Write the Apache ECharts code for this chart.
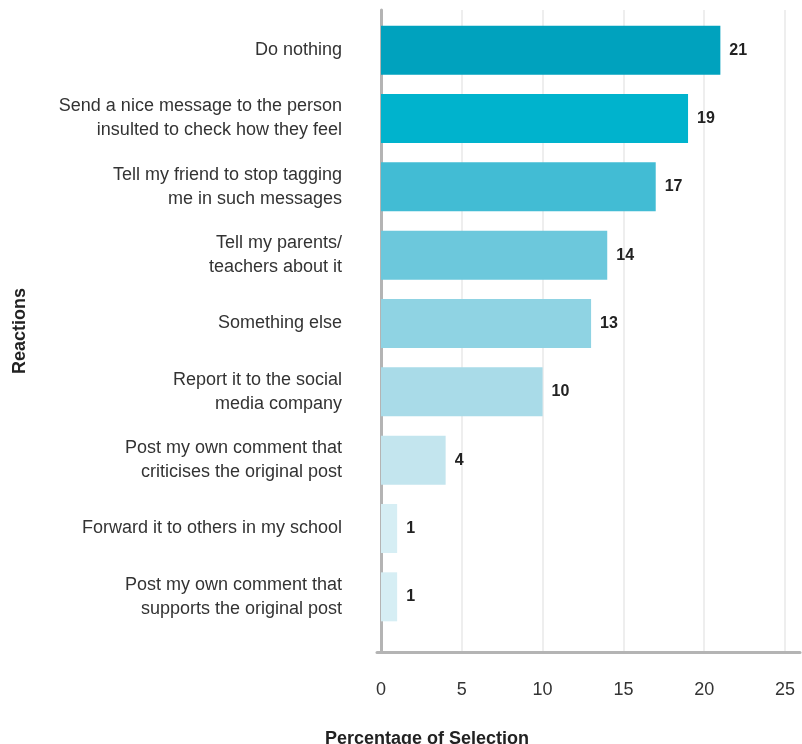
<!DOCTYPE html>
<html>
<head>
<meta charset="utf-8">
<script src="https://cdn.jsdelivr.net/npm/echarts@6/dist/echarts.min.js"></script>
<style>
  html, body { margin: 0; padding: 0; background: #fff; }
  #chart { width: 802px; height: 744px; }
</style>
</head>
<body>
<div id="chart"></div>
<script>
// Reactions, top to bottom
const reactions = [
  'Do nothing',
  'Send a nice message to the person\ninsulted to check how they feel',
  'Tell my friend to stop tagging\nme in such messages',
  'Tell my parents/\nteachers about it',
  'Something else',
  'Report it to the social\nmedia company',
  'Post my own comment that\ncriticises the original post',
  'Forward it to others in my school',
  'Post my own comment that\nsupports the original post'
];
// Percentage of selection for each reaction
const percentages = [21, 19, 17, 14, 13, 10, 4, 1, 1];
// Bar shades, darkest for the most common reaction
const barColors = ['#00a2be', '#00b3cd', '#42bcd4', '#6cc8dc', '#8fd3e3', '#a9dbe8', '#c3e5ee', '#d6eef4', '#d6eef4'];
// X-axis range
const xMin = 0, xMax = 25, xStep = 5;

const font = '"Liberation Sans", Arial, Helvetica, sans-serif';
const axisGray = '#b4b4b4';
const chart = echarts.init(document.getElementById('chart'), null, { renderer: 'canvas' });

chart.setOption({
  animation: false,
  backgroundColor: '#ffffff',
  textStyle: { fontFamily: font },
  title: {
    text: 'Percentage of Selection',
    left: 320,
    top: 725,
    textStyle: { fontFamily: font, fontSize: 18, fontWeight: 'bold', color: '#222' }
  },
  grid: [
    // bars
    { left: 381, right: 17, top: 16, bottom: 113, containLabel: false, outerBoundsMode: 'none' },
    // axis frame and gridlines
    { left: 381, right: 17, top: 10, bottom: 92, containLabel: false, outerBoundsMode: 'none' },
    // baseline running a little past both ends of the scale
    { left: 377, right: 2, top: 10, bottom: 92, containLabel: false, outerBoundsMode: 'none' }
  ],
  xAxis: [
    {
      gridIndex: 0, type: 'value', min: xMin, max: xMax, interval: xStep,
      show: false
    },
    {
      gridIndex: 1, type: 'value', min: xMin, max: xMax, interval: xStep,
      axisLine: { show: false },
      axisTick: { show: false },
      axisLabel: { margin: 29, fontSize: 18, color: '#333', fontFamily: font },
      splitLine: { show: true, lineStyle: { color: '#eeeeee', width: 2 } }
    },
    {
      gridIndex: 2, type: 'value', min: 0, max: 1,
      axisLine: { show: true, lineStyle: { color: axisGray, width: 3 } },
      axisTick: { show: false },
      axisLabel: { show: false },
      splitLine: { show: false }
    }
  ],
  yAxis: [
    {
      gridIndex: 0, type: 'category', data: reactions, inverse: true,
      axisLine: { show: false },
      axisTick: { show: false },
      axisLabel: {
        margin: 39, fontSize: 18, lineHeight: 24, color: '#333',
        fontFamily: font, align: 'right'
      },
      splitLine: { show: false }
    },
    {
      gridIndex: 1, type: 'value',
      name: 'Reactions', nameLocation: 'middle', nameGap: 352, nameRotate: 90,
      nameTextStyle: { fontFamily: font, fontSize: 18, fontWeight: 'bold', color: '#222' },
      axisLine: { show: true, lineStyle: { color: axisGray, width: 3 } },
      axisTick: { show: false },
      axisLabel: { show: false },
      splitLine: { show: false }
    },
    {
      gridIndex: 2, type: 'value', show: false
    }
  ],
  series: [
    {
      type: 'bar',
      xAxisIndex: 0,
      yAxisIndex: 0,
      barWidth: 49,
      data: percentages.map((v, i) => ({
        value: v,
        itemStyle: { color: barColors[i] }
      })),
      label: {
        show: true,
        position: 'right',
        distance: 9,
        fontSize: 16,
        fontWeight: 'bold',
        color: '#222',
        fontFamily: font
      }
    }
  ]
});
</script>
</body>
</html>
